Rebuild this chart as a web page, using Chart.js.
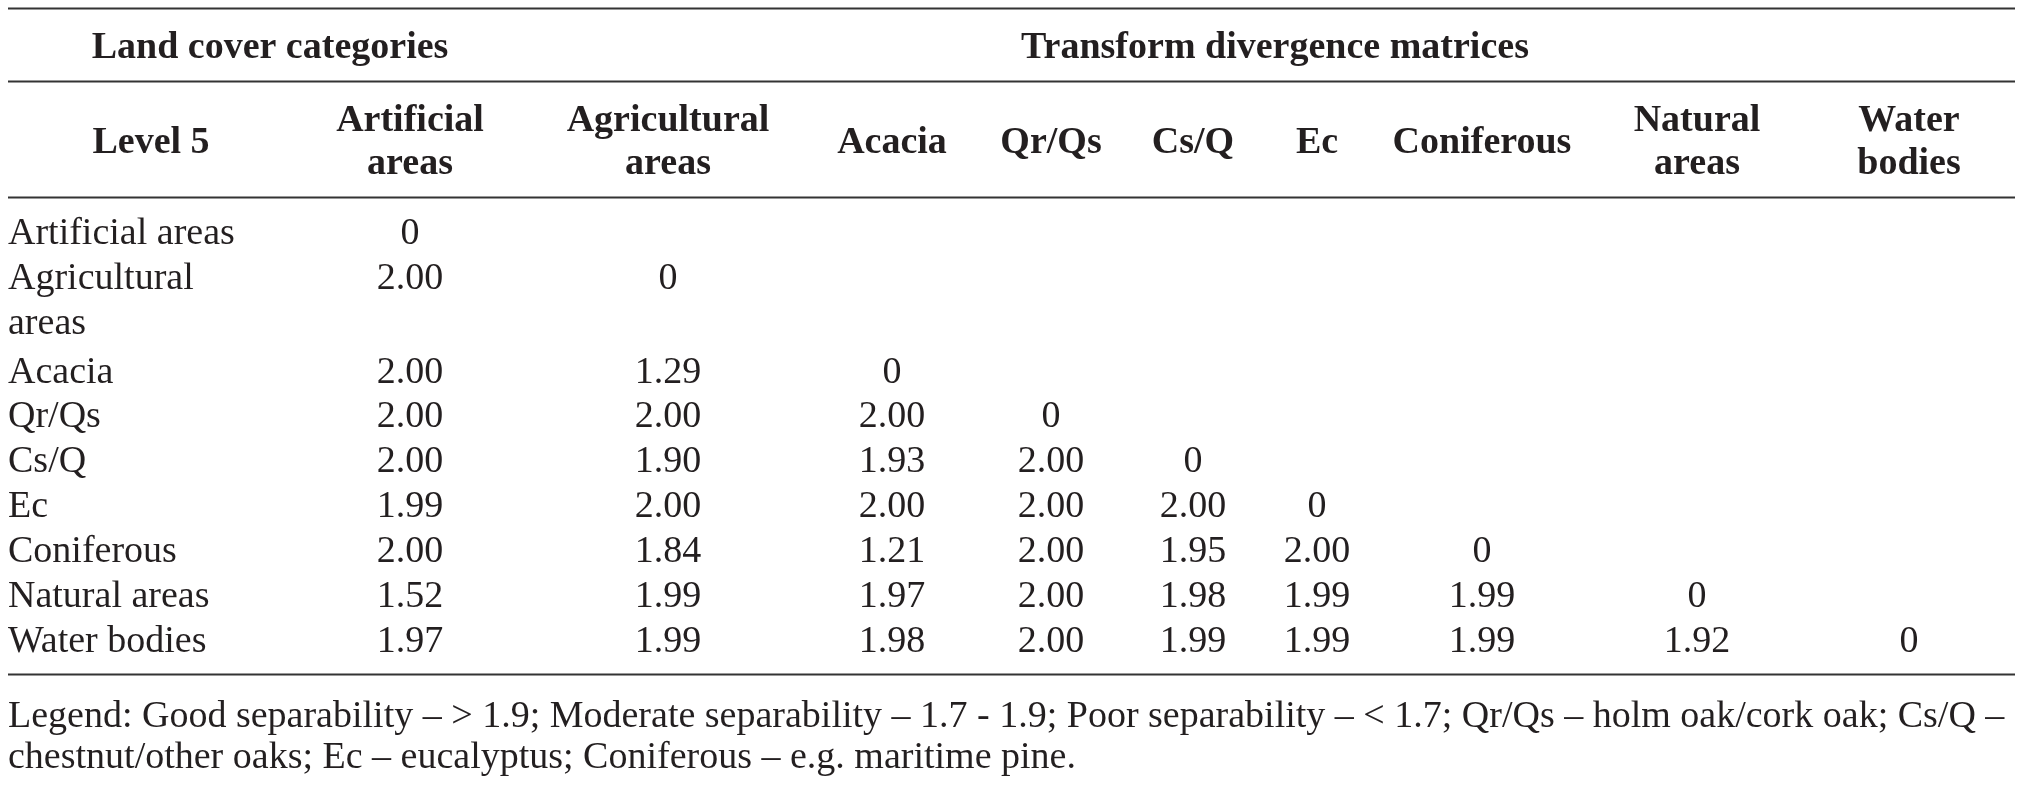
<!DOCTYPE html>
<html>
<head>
<meta charset="utf-8">
<title>Transform divergence matrices</title>
<script src="https://cdn.jsdelivr.net/npm/chart.js@4.4.0/dist/chart.umd.min.js"></script>
<style>
  html, body { margin: 0; padding: 0; background: #fff; }
  canvas { display: block; }
</style>
</head>
<body>
<canvas id="td-table" width="2023" height="789"></canvas>
<script>
// table content
const groupTitles = ['Land cover categories', 'Transform divergence matrices'];
const cornerLabel = 'Level 5';
const colLabels = ['Artificial\nareas', 'Agricultural\nareas', 'Acacia', 'Qr/Qs', 'Cs/Q', 'Ec', 'Coniferous', 'Natural\nareas', 'Water\nbodies'];
const rowLabels = ['Artificial areas', 'Agricultural\nareas', 'Acacia', 'Qr/Qs', 'Cs/Q', 'Ec', 'Coniferous', 'Natural areas', 'Water bodies'];

// lower triangle, one array per row
const rowArtificial = [0];
const rowAgricultural = [2.00, 0];
const rowAcacia = [2.00, 1.29, 0];
const rowQrQs = [2.00, 2.00, 2.00, 0];
const rowCsQ = [2.00, 1.90, 1.93, 2.00, 0];
const rowEc = [1.99, 2.00, 2.00, 2.00, 2.00, 0];
const rowConiferous = [2.00, 1.84, 1.21, 2.00, 1.95, 2.00, 0];
const rowNatural = [1.52, 1.99, 1.97, 2.00, 1.98, 1.99, 1.99, 0];
const rowWater = [1.97, 1.99, 1.98, 2.00, 1.99, 1.99, 1.99, 1.92, 0];
const matrixRows = [rowArtificial, rowAgricultural, rowAcacia, rowQrQs, rowCsQ, rowEc, rowConiferous, rowNatural, rowWater];

const footnote = [
    'Legend: Good separability \u2013 > 1.9; Moderate separability \u2013 1.7 - 1.9; Poor separability \u2013 < 1.7; Qr/Qs \u2013 holm oak/cork oak; Cs/Q \u2013',
    'chestnut/other oaks; Ec \u2013 eucalyptus; Coniferous \u2013 e.g. maritime pine.'
];

// layout (scale units = page pixels)
const colCenters = [410, 668, 892, 1051, 1193, 1317, 1482, 1697, 1909];
const rowBaselines = [244, 289, 383, 427, 472, 517, 562, 607, 652];
const lineStep = 45;
const ruleYs = [8, 81, 197, 674];
const ruleLeft = 8, ruleRight = 2015;
const labelLeft = 8;
const footBaselines = [727, 768];

const TEXT = '#231f20';
const REG = "38px 'Liberation Serif', 'Times New Roman', serif";
const BOLD = "bold 38px 'Liberation Serif', 'Times New Roman', serif";

const fmt = (v) => v === 0 ? '0' : v.toFixed(2);

// one point per cell, placed by the scales
const cells = [];
matrixRows.forEach((vals, i) => {
    vals.forEach((v, j) => {
        cells.push({ x: colCenters[j], y: rowBaselines[i], text: fmt(v) });
    });
});

const drawLines = (ctx, text, x, y, align) => {
    ctx.textAlign = align;
    text.split('\n').forEach((t, k) => ctx.fillText(t, x, y + k * lineStep));
};

const tablePlugin = {
    id: 'tablePlugin',
    afterDatasetsDraw(chart) {
        const ctx = chart.ctx;
        const sx = chart.scales.x, sy = chart.scales.y;
        ctx.save();

        // horizontal rules
        ctx.strokeStyle = '#333';
        ctx.lineWidth = 2;
        ruleYs.forEach(r => {
            const py = Math.round(sy.getPixelForValue(r)) + 0.5;
            ctx.beginPath();
            ctx.moveTo(sx.getPixelForValue(ruleLeft), py);
            ctx.lineTo(sx.getPixelForValue(ruleRight), py);
            ctx.stroke();
        });

        ctx.fillStyle = TEXT;
        ctx.textBaseline = 'alphabetic';

        // header rows
        ctx.font = BOLD;
        drawLines(ctx, groupTitles[0], sx.getPixelForValue(270), sy.getPixelForValue(58), 'center');
        drawLines(ctx, groupTitles[1], sx.getPixelForValue(1275), sy.getPixelForValue(58), 'center');
        drawLines(ctx, cornerLabel, sx.getPixelForValue(151), sy.getPixelForValue(153), 'center');
        colLabels.forEach((lab, j) => {
            const twoLine = lab.includes('\n');
            const by = twoLine ? 131 : 153;
            ctx.textAlign = 'center';
            lab.split('\n').forEach((t, k) => {
                ctx.fillText(t, sx.getPixelForValue(colCenters[j]), sy.getPixelForValue(by + k * 43));
            });
        });

        // row labels
        ctx.font = REG;
        rowLabels.forEach((lab, i) => {
            drawLines(ctx, lab, sx.getPixelForValue(labelLeft), sy.getPixelForValue(rowBaselines[i]), 'left');
        });

        // cell values from the dataset elements
        const meta = chart.getDatasetMeta(0);
        ctx.textAlign = 'center';
        meta.data.forEach((el, k) => {
            ctx.fillText(cells[k].text, el.x, el.y);
        });

        // footnote
        ctx.textAlign = 'left';
        footnote.forEach((t, k) => {
            ctx.fillText(t, sx.getPixelForValue(labelLeft), sy.getPixelForValue(footBaselines[k]));
        });

        ctx.restore();
    }
};

new Chart(document.getElementById('td-table'), {
    type: 'scatter',
    data: {
        datasets: [{
            data: cells,
            pointRadius: 0,
            pointHoverRadius: 0
        }]
    },
    options: {
        responsive: false,
        animation: false,
        events: [],
        layout: { padding: 0 },
        plugins: {
            legend: { display: false },
            tooltip: { enabled: false }
        },
        scales: {
            x: { type: 'linear', min: 0, max: 2023, display: false },
            y: { type: 'linear', min: 0, max: 789, reverse: true, display: false }
        }
    },
    plugins: [tablePlugin]
});
</script>
</body>
</html>
